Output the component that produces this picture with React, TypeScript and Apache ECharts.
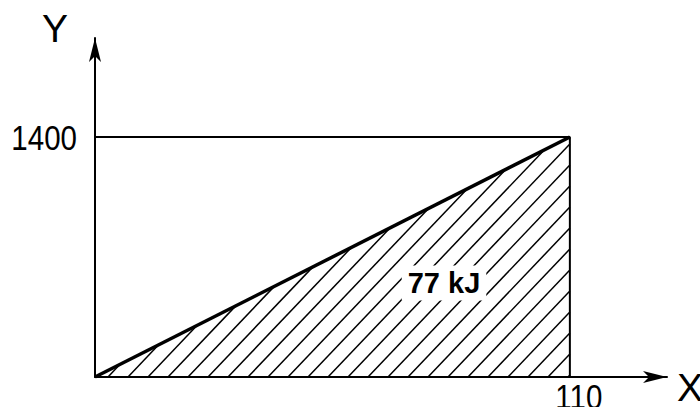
import React, { useEffect, useRef } from "react";
import * as echarts from "echarts";

// Data
const X_POINTS = [0, 110];
const Y_POINTS = [0, 1400];
const X_TICK_LABELS = [110];
const Y_TICK_LABELS = [1400];
const AREA_LABEL = "77 kJ";
const X_NAME = "X";
const Y_NAME = "Y";

// Axis extents (arrows reach past the rectangle)
const X_AXIS_END = 132.5;
const Y_AXIS_END = 1977.5;

const SANS = "'Liberation Sans', Arial, Helvetica, sans-serif";

export default function App() {
  const ref = useRef<HTMLDivElement>(null);

  useEffect(() => {
    if (!ref.current) return;
    const chart = echarts.init(ref.current, undefined, { renderer: "svg" });
    const xMax = X_POINTS[1];
    const yMax = Y_POINTS[1];

    const hatch = (params: any, api: any) => {
      const o = api.coord([X_POINTS[0], Y_POINTS[0]]);
      const b = api.coord([xMax, Y_POINTS[0]]);
      const t = api.coord([xMax, yMax]);
      const s = (o[1] - t[1]) / (b[0] - o[0]);
      const k = 1.05;
      const spacing = 20;
      const children: any[] = [];
      for (let bx = o[0] + 13; bx < b[0]; bx += spacing) {
        let x2 = (k * bx - s * o[0]) / (k - s);
        if (x2 > b[0]) x2 = b[0];
        const y2 = o[1] - k * (x2 - bx);
        children.push({
          type: "line",
          shape: { x1: bx, y1: o[1], x2, y2 },
          style: { stroke: "#000", lineWidth: 1.5 },
        });
      }
      return { type: "group", children };
    };

    const axisLine = {
      show: true,
      onZero: false,
      symbol: ["none", "arrow"],
      symbolSize: [9, 24],
      lineStyle: { color: "#000", width: 2 },
    };

    chart.setOption({
      animation: false,
      backgroundColor: "#fff",
      grid: { left: 95, right: 33, top: 38, bottom: 30, containLabel: false, outerBoundsMode: "none" },
      xAxis: {
        type: "value",
        min: 0,
        max: X_AXIS_END,
        axisLine,
        axisTick: { show: false },
        splitLine: { show: false },
        axisLabel: { show: false },
      },
      yAxis: {
        type: "value",
        min: 0,
        max: Y_AXIS_END,
        name: Y_NAME,
        nameLocation: "end",
        nameGap: -10,
        nameTextStyle: { fontFamily: SANS, fontSize: 39, color: "#000", padding: [0, 80, 0, 0] },
        axisLine,
        axisTick: { show: false },
        splitLine: { show: false },
        axisLabel: { show: false },
      },
      series: [
        {
          type: "custom",
          renderItem: hatch,
          data: [[X_POINTS[0], Y_POINTS[0]]],
          silent: true,
          clip: false,
          z: 1,
        },
        {
          type: "line",
          data: [
            [X_POINTS[0], yMax],
            [xMax, yMax],
            [xMax, Y_POINTS[0]],
          ],
          showSymbol: false,
          symbol: "none",
          lineStyle: { color: "#000", width: 2 },
          silent: true,
          z: 2,
        },
        {
          type: "line",
          data: [
            [X_POINTS[0], Y_POINTS[0]],
            [xMax, yMax],
          ],
          showSymbol: false,
          symbol: "none",
          lineStyle: { color: "#000", width: 3.5 },
          silent: true,
          z: 3,
        },
      ],
    });

    const xLabelPts = X_TICK_LABELS.map((v) => chart.convertToPixel({ gridIndex: 0 }, [v, 0]));
    const yLabelPts = Y_TICK_LABELS.map((v) => chart.convertToPixel({ gridIndex: 0 }, [0, v]));
    const xEnd = chart.convertToPixel({ gridIndex: 0 }, [X_AXIS_END, 0]);

    chart.setOption({
      graphic: [
        ...X_TICK_LABELS.map((v, i) => ({
          type: "text",
          x: xLabelPts[i][0] + 9,
          y: xLabelPts[i][1] + 1,
          scaleX: 0.82,
          z: 100,
          style: {
            text: String(v),
            fill: "#000",
            font: `36px ${SANS}`,
            align: "center",
            verticalAlign: "top",
          },
        })),
        ...Y_TICK_LABELS.map((v, i) => ({
          type: "text",
          x: yLabelPts[i][0] - 18,
          y: yLabelPts[i][1],
          scaleX: 0.82,
          z: 100,
          style: {
            text: String(v),
            fill: "#000",
            font: `36px ${SANS}`,
            align: "right",
            verticalAlign: "middle",
          },
        })),
        {
          type: "text",
          x: xEnd[0] + 10,
          y: xEnd[1] + 10,
          z: 100,
          style: {
            text: X_NAME,
            fill: "#000",
            font: `39px ${SANS}`,
            align: "left",
            verticalAlign: "middle",
          },
        },
        {
          type: "text",
          x: 444,
          y: 283,
          z: 100,
          style: {
            text: AREA_LABEL,
            fill: "#000",
            font: `bold 29px ${SANS}`,
            align: "center",
            verticalAlign: "middle",
            backgroundColor: "#fff",
            padding: [3, 6],
          },
        },
      ],
    });

    return () => chart.dispose();
  }, []);

  return (
    <div
      ref={ref}
      style={{ position: "fixed", left: 0, top: 0, width: 700, height: 407, background: "#fff" }}
    />
  );
}
